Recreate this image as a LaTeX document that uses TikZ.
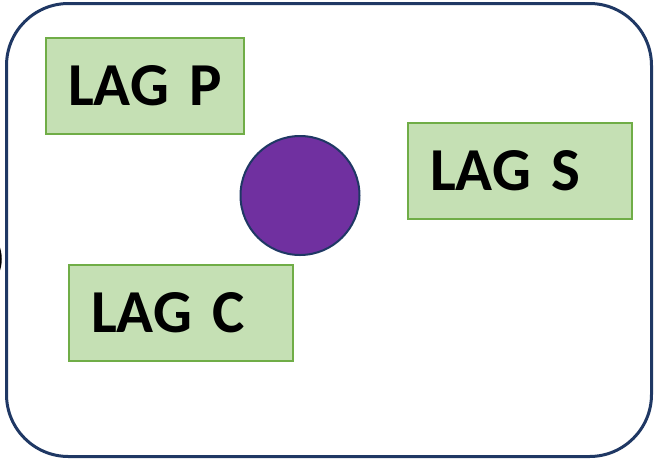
\documentclass[tikz,border=0pt]{standalone}
\usepackage{fontspec}
\setmainfont{Carlito}
\definecolor{navy}{HTML}{1F3864}
\definecolor{boxfill}{HTML}{C5E0B4}
\definecolor{boxline}{HTML}{70AD47}
\definecolor{dotfill}{HTML}{7030A0}
\begin{document}
\begin{tikzpicture}[x=1pt,y=-1pt,
  lagbox/.style={draw=boxline, fill=boxfill, line width=2pt, rectangle, inner sep=0pt,
    minimum height=96pt, align=left, font=\fontsize{61}{61}\selectfont\bfseries},
  frame/.style={draw=navy, line width=3pt, rounded corners=62pt},
  dot/.style={circle, draw=navy, fill=dotfill, line width=2pt, minimum size=119pt, inner sep=0pt}]
\useasboundingbox (0,0) rectangle (654,459);
\clip (0,0) rectangle (654,459);
\fill[white] (0,0) rectangle (654,459);
\draw[black, line width=1.5pt] (-9,259) ellipse (10pt and 20pt);
\draw[frame] (6.5,3.5) rectangle (651.5,456.5);
\node[lagbox, minimum width=198pt, text width=154pt] (p) at (145,86) {\mbox{LAG P}};
\node[lagbox, minimum width=224pt, text width=180pt] (s) at (520,171) {\mbox{LAG S}};
\node[lagbox, minimum width=224pt, text width=180pt] (c) at (181,313) {\mbox{LAG C}};
\node[dot] (o) at (300,195.5) {};
\end{tikzpicture}
\end{document}
